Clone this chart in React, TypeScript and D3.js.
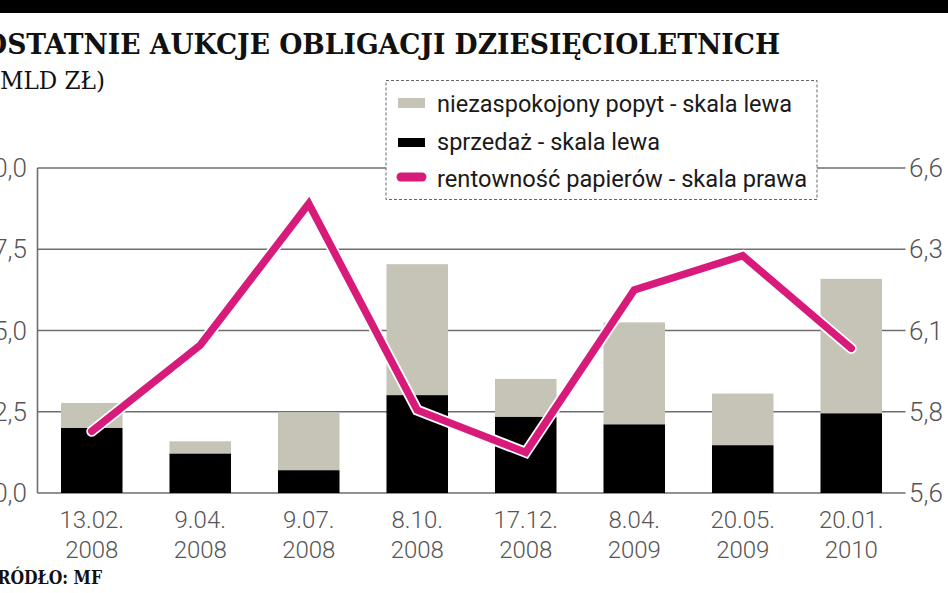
import React from "react";
import * as d3 from "d3";

const categories = ["13.02.|2008", "9.04.|2008", "9.07.|2008", "8.10.|2008", "17.12.|2008", "8.04.|2009", "20.05.|2009", "20.01.|2010"];
const sprzedaz = [2.0, 1.21, 0.7, 3.01, 2.34, 2.11, 1.47, 2.45];
const niezaspokojony = [0.77, 0.38, 1.78, 4.03, 1.17, 3.14, 1.59, 4.14];
const rentownosc = [5.79, 6.055, 6.49, 5.855, 5.725, 6.225, 6.33, 6.045];
const leftTicks = [0, 2.5, 5, 7.5, 10];
const rightTicks = [5.6, 5.85, 6.1, 6.35, 6.6];
const rightTickLabels = ["5,6", "5,8", "6,1", "6,3", "6,6"];
const legendItems = [
  "niezaspokojony popyt - skala lewa",
  "sprzedaż - skala lewa",
  "rentowność papierów - skala prawa",
];

const W = 948;
const H = 593;
const X0 = 37.5;
const X1 = 905.5;
const Y0 = 493;
const Y1 = 168;

const GREY = "#c5c4b6";
const PINK = "#d81b7b";
const AXIS = "#6e6e6e";
const LABEL = "#555";
const SANS = "Roboto, 'DejaVu Sans', sans-serif";
const SERIF = "'DejaVu Serif', 'Liberation Serif', serif";

export default function App() {
  const x = d3
    .scaleBand<string>()
    .domain(categories)
    .range([X0, X1])
    .paddingInner(0.433)
    .paddingOuter(0.2165);
  const yL = d3.scaleLinear().domain([0, 10]).range([Y0, Y1]);
  const yR = d3.scaleLinear().domain([5.6, 6.6]).range([Y0, Y1]);
  const fmt = (v: number) => d3.format(".1f")(v).replace(".", ",");

  const line = d3
    .line<number>()
    .x((_, i) => (x(categories[i]) as number) + x.bandwidth() / 2)
    .y((d) => yR(d));
  const linePath = line(rentownosc) || "";

  const legendLens = [355, 223, 370];

  return (
    <svg
      width={W}
      height={H}
      viewBox={`0 0 ${W} ${H}`}
      style={{ position: "absolute", left: 0, top: 0, background: "#fff", overflow: "hidden" }}
    >
      <rect x={0} y={0} width={W} height={H} fill="#fff" />
      <rect x={0} y={0} width={W} height={13} fill="#000" />

      {/* Title */}
      <text
        x={-16}
        y={54}
        fontFamily={SERIF}
        fontWeight="bold"
        fontSize={27}
        fill="#111"
        textLength={796}
        lengthAdjust="spacingAndGlyphs"
      >
        OSTATNIE AUKCJE OBLIGACJI DZIESIĘCIOLETNICH
      </text>
      <text
        x={-9}
        y={89}
        fontFamily={SERIF}
        fontSize={25}
        fill="#111"
        textLength={114}
        lengthAdjust="spacingAndGlyphs"
      >
        (MLD ZŁ)
      </text>

      {/* Gridlines */}
      {leftTicks.map((t) => (
        <line key={"g" + t} x1={X0} x2={X1} y1={yL(t)} y2={yL(t)} stroke={AXIS} strokeWidth={1.6} />
      ))}
      <line x1={X0} x2={X0} y1={Y1} y2={Y0} stroke={AXIS} strokeWidth={1.6} />

      {/* Left tick labels */}
      {leftTicks.map((t) => (
        <text
          key={"l" + t}
          x={27}
          y={yL(t) + 9}
          textAnchor="end"
          fontFamily={SANS}
          fontWeight={300}
          fontSize={26}
          fill={LABEL}
        >
          {fmt(t)}
        </text>
      ))}
      {/* Right tick labels */}
      {rightTicks.map((t, i) => (
        <text
          key={"r" + t}
          x={909}
          y={yR(t) + 9}
          fontFamily={SANS}
          fontWeight={300}
          fontSize={26}
          fill={LABEL}
        >
          {rightTickLabels[i]}
        </text>
      ))}

      {/* Bars */}
      {categories.map((c, i) => {
        const bx = x(c) as number;
        const bw = x.bandwidth();
        const s = sprzedaz[i];
        const n = niezaspokojony[i];
        return (
          <g key={c}>
            <rect x={bx} y={yL(s + n)} width={bw} height={yL(s) - yL(s + n)} fill={GREY} />
            <rect x={bx} y={yL(s)} width={bw} height={yL(0) - yL(s)} fill="#000" />
          </g>
        );
      })}

      {/* Line */}
      <path d={linePath} fill="none" stroke="#fff" strokeWidth={11} strokeLinecap="round" strokeLinejoin="miter" />
      <path d={linePath} fill="none" stroke={PINK} strokeWidth={7.5} strokeLinecap="round" strokeLinejoin="miter" />

      {/* X labels */}
      {categories.map((c) => {
        const [a, b] = c.split("|");
        const cx = (x(c) as number) + x.bandwidth() / 2;
        return (
          <g key={"x" + c}>
            <text x={cx} y={528} textAnchor="middle" fontFamily={SANS} fontWeight={300} fontSize={24} fill={LABEL}>
              {a}
            </text>
            <text x={cx} y={558} textAnchor="middle" fontFamily={SANS} fontWeight={300} fontSize={24} fill={LABEL}>
              {b}
            </text>
          </g>
        );
      })}

      {/* Legend */}
      <rect
        x={386}
        y={80.5}
        width={431}
        height={119}
        fill="#fff"
        stroke="#666"
        strokeWidth={1}
        strokeDasharray="3,2"
      />
      <rect x={398} y={98} width={27} height={10} fill={GREY} />
      <rect x={398} y={138} width={27} height={9} fill="#000" />
      <line x1={401} x2={422} y1={177} y2={177} stroke={PINK} strokeWidth={9} strokeLinecap="round" />
      {legendItems.map((t, i) => (
        <text
          key={t}
          x={437}
          y={112 + i * 37.5}
          fontFamily={SANS}
          fontSize={24}
          fill="#1a1a1a"
          textLength={legendLens[i]}
          lengthAdjust="spacingAndGlyphs"
        >
          {t}
        </text>
      ))}

      {/* Source */}
      <text
        x={-14}
        y={584}
        fontFamily={SERIF}
        fontWeight="bold"
        fontSize={19}
        fill="#111"
        textLength={116}
        lengthAdjust="spacingAndGlyphs"
      >
        ŹRÓDŁO: MF
      </text>
    </svg>
  );
}
